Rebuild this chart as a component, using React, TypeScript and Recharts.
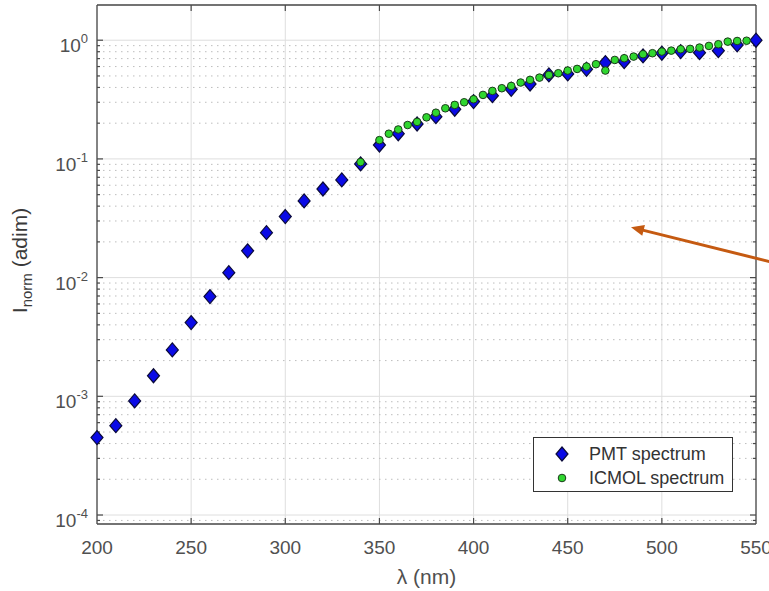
import React from "react";
import {
  ScatterChart,
  Scatter,
  XAxis,
  YAxis,
  CartesianGrid,
  ReferenceLine,
  Legend,
  Label,
} from "recharts";

const FONT = "'Liberation Sans', Arial, Helvetica, sans-serif";
const AXIS_COLOR = "#4a4a4a";
const TEXT_COLOR = "#505050";
const GRID_COLOR = "#dedede";
const MINOR_COLOR = "#bdbdbd";
const PMT_FILL = "#0a0ae6";
const PMT_EDGE = "#0b0b3a";
const ICMOL_FILL = "#2fd62f";
const ICMOL_EDGE = "#1b3b1b";
const ARROW_COLOR = "#c55a11";

const X_TICKS = [200, 250, 300, 350, 400, 450, 500, 550];
const Y_TICKS = [1e-4, 1e-3, 1e-2, 1e-1, 1];
const X_MIN = 200;
const X_MAX = 550;
const Y_MIN = 8.4e-5;
const Y_MAX = 1.98;

const PMT_WAVELENGTH = [
  200, 210, 220, 230, 240, 250, 260, 270, 280, 290, 300, 310, 320, 330, 340,
  350, 360, 370, 380, 390, 400, 410, 420, 430, 440, 450, 460, 470, 480, 490,
  500, 510, 520, 530, 540, 550,
];
const PMT_INTENSITY = [
  4.49e-4, 5.66e-4, 9.15e-4, 1.49e-3, 2.46e-3, 4.18e-3, 6.92e-3, 1.1e-2,
  1.68e-2, 2.39e-2, 3.27e-2, 4.43e-2, 5.58e-2, 6.65e-2, 9.08e-2, 0.131, 0.163,
  0.197, 0.227, 0.262, 0.304, 0.341, 0.386, 0.428, 0.51, 0.52, 0.569, 0.648,
  0.66, 0.738, 0.777, 0.802, 0.786, 0.817, 0.913, 1.0,
];

const ICMOL_WAVELENGTH = [
  340, 350, 355, 360, 365, 370, 375, 380, 385, 390, 395, 400, 405, 410, 415,
  420, 425, 430, 435, 440, 445, 450, 455, 460, 465, 470, 475, 480, 485, 490,
  495, 500, 505, 510, 515, 520, 525, 530, 535, 540, 545,
];
const ICMOL_INTENSITY = [
  0.094, 0.144, 0.163, 0.177, 0.193, 0.205, 0.224, 0.245, 0.267, 0.285, 0.3,
  0.318, 0.346, 0.374, 0.394, 0.412, 0.44, 0.463, 0.484, 0.51, 0.527, 0.555,
  0.573, 0.6, 0.628, 0.555, 0.682, 0.705, 0.728, 0.762, 0.777, 0.802, 0.817,
  0.84, 0.845, 0.867, 0.895, 0.925, 0.973, 0.985, 0.99,
];

// orange annotation arrow, coming in from beyond the right edge
const ARROW_FROM = { wl: 557.5, i: 0.0136 };
const ARROW_TO = { wl: 483.6, i: 0.0266 };

// minor log grid levels (2..9 x 10^k)
const MINOR_Y = [-5, -4, -3, -2, -1, 0]
  .flatMap((k) => [2, 3, 4, 5, 6, 7, 8, 9].map((m) => m * Math.pow(10, k)))
  .filter((v) => v > Y_MIN && v < Y_MAX);

const pmtData = PMT_WAVELENGTH.map((wl, idx) => ({ wl, i: PMT_INTENSITY[idx] }));
const icmolData = ICMOL_WAVELENGTH.map((wl, idx) => ({
  wl,
  i: ICMOL_INTENSITY[idx],
}));

const Diamond = ({ cx, cy }: any) => (
  <polygon
    points={`${cx},${cy - 7} ${cx + 6},${cy} ${cx},${cy + 7} ${cx - 6},${cy}`}
    fill={PMT_FILL}
    stroke={PMT_EDGE}
    strokeWidth={1.2}
  />
);

const Dot = ({ cx, cy }: any) => (
  <circle cx={cx} cy={cy} r={3.8} fill={ICMOL_FILL} stroke={ICMOL_EDGE} strokeWidth={1} />
);

// horizontal line: optional dotted grid + inward ticks on both sides
const hMarks = (len: number, dotted: boolean) => (p: any) => {
  const l = Math.min(p.x1, p.x2);
  const r = Math.max(p.x1, p.x2);
  const y = p.y1;
  return (
    <g>
      {dotted && (
        <line x1={l} x2={r} y1={y} y2={y} stroke={MINOR_COLOR} strokeDasharray="1.5 4.5" />
      )}
      <line x1={l} x2={l + len} y1={y} y2={y} stroke={AXIS_COLOR} strokeWidth={1.2} />
      <line x1={r - len} x2={r} y1={y} y2={y} stroke={AXIS_COLOR} strokeWidth={1.2} />
    </g>
  );
};

// vertical ticks at top and bottom
const vMarks = (len: number) => (p: any) => {
  const t = Math.min(p.y1, p.y2);
  const b = Math.max(p.y1, p.y2);
  const x = p.x1;
  return (
    <g>
      <line x1={x} x2={x} y1={t} y2={t + len} stroke={AXIS_COLOR} strokeWidth={1.2} />
      <line x1={x} x2={x} y1={b - len} y2={b} stroke={AXIS_COLOR} strokeWidth={1.2} />
    </g>
  );
};

const ArrowShape = (p: any) => {
  const { x1, y1, x2, y2 } = p;
  const dx = x2 - x1;
  const dy = y2 - y1;
  const len = Math.hypot(dx, dy) || 1;
  const ux = dx / len;
  const uy = dy / len;
  const hl = 13;
  const hw = 5.5;
  const bx = x2 - ux * hl;
  const by = y2 - uy * hl;
  const pts = `${x2},${y2} ${bx - uy * hw},${by + ux * hw} ${bx + uy * hw},${by - ux * hw}`;
  return (
    <g>
      <line x1={x1} y1={y1} x2={bx + ux * 2} y2={by + uy * 2} stroke={ARROW_COLOR} strokeWidth={3} />
      <polygon points={pts} fill={ARROW_COLOR} />
    </g>
  );
};

const YTick = ({ x, y, payload }: any) => {
  const exp = Math.round(Math.log10(payload.value));
  return (
    <text x={x - 9} y={y + 12} textAnchor="end" fill={TEXT_COLOR} fontFamily={FONT} fontSize={19}>
      10
      <tspan dy={-9} fontSize={13}>
        {exp}
      </tspan>
    </text>
  );
};

const XTick = ({ x, y, payload }: any) => (
  <text x={x} y={y + 30} textAnchor="middle" fill={TEXT_COLOR} fontFamily={FONT} fontSize={19}>
    {payload.value}
  </text>
);

const XLabel = ({ viewBox }: any) => (
  <text
    x={viewBox.x + viewBox.width / 2}
    y={viewBox.y + 60}
    textAnchor="middle"
    fill={TEXT_COLOR}
    fontFamily={FONT}
    fontSize={21}
  >
    λ (nm)
  </text>
);

const YLabel = ({ viewBox }: any) => {
  const cx = viewBox.x + 27;
  const cy = viewBox.y + viewBox.height / 2 - 4;
  return (
    <text
      x={cx}
      y={cy}
      transform={`rotate(-90, ${cx}, ${cy})`}
      textAnchor="middle"
      fill="#3a3a3a"
      fontFamily={FONT}
      fontSize={21}
    >
      I
      <tspan dy={5} fontSize={15}>
        norm
      </tspan>
      <tspan dy={-5}> (adim)</tspan>
    </text>
  );
};

const LegendBox = () => (
  <div
    style={{
      width: 200,
      height: 55,
      boxSizing: "border-box",
      border: "1px solid #333",
      background: "#fff",
      position: "relative",
      fontFamily: FONT,
      fontSize: 18,
      color: "#333",
    }}
  >
    {[
      { name: "PMT spectrum", kind: "diamond" },
      { name: "ICMOL spectrum", kind: "dot" },
    ].map((item, idx) => (
      <div
        key={item.name}
        style={{
          position: "absolute",
          left: 0,
          top: 5 + idx * 24,
          height: 22,
          lineHeight: "22px",
          whiteSpace: "nowrap",
        }}
      >
        <svg width={40} height={22} style={{ position: "absolute", left: 8, top: 0 }}>
          {item.kind === "diamond" ? <Diamond cx={20} cy={11} /> : <Dot cx={20} cy={11} />}
        </svg>
        <span style={{ position: "absolute", left: 55 }}>{item.name}</span>
      </div>
    ))}
  </div>
);

export default function App() {
  return (
    <div style={{ position: "absolute", left: 0, top: 0, width: 769, height: 591, background: "#fff" }}>
      <ScatterChart width={769} height={591} margin={{ top: 5, right: 13, bottom: 0, left: 0 }}>
        <CartesianGrid stroke={GRID_COLOR} />
        <XAxis
          dataKey="wl"
          type="number"
          domain={[X_MIN, X_MAX]}
          ticks={X_TICKS}
          height={67}
          tickLine={false}
          tickSize={0}
          tickMargin={0}
          tick={<XTick />}
          axisLine={{ stroke: AXIS_COLOR, strokeWidth: 1.3 }}
        >
          <Label content={XLabel} />
        </XAxis>
        <YAxis
          dataKey="i"
          type="number"
          scale="log"
          domain={[Y_MIN, Y_MAX]}
          ticks={Y_TICKS}
          width={97}
          tickLine={false}
          tickSize={0}
          tickMargin={0}
          tick={<YTick />}
          axisLine={{ stroke: AXIS_COLOR, strokeWidth: 1.3 }}
        >
          <Label content={YLabel} />
        </YAxis>
        {MINOR_Y.map((v) => (
          <ReferenceLine key={`m${v}`} y={v} shape={hMarks(3, true)} />
        ))}
        {Y_TICKS.map((v) => (
          <ReferenceLine key={`M${v}`} y={v} shape={hMarks(6, false)} />
        ))}
        {X_TICKS.slice(1, -1).map((v) => (
          <ReferenceLine key={`x${v}`} x={v} shape={vMarks(6)} />
        ))}
        <ReferenceLine y={Y_MAX} stroke={AXIS_COLOR} strokeWidth={1.3} />
        <ReferenceLine x={X_MAX} stroke={AXIS_COLOR} strokeWidth={1.3} />
        <Scatter
          name="PMT spectrum"
          data={pmtData}
          shape={<Diamond />}
          isAnimationActive={false}
        />
        <Scatter
          name="ICMOL spectrum"
          data={icmolData}
          shape={<Dot />}
          isAnimationActive={false}
        />
        <ReferenceLine
          segment={[
            { x: ARROW_FROM.wl, y: ARROW_FROM.i },
            { x: ARROW_TO.wl, y: ARROW_TO.i },
          ]}
          ifOverflow="visible"
          shape={ArrowShape}
        />
        <Legend
          layout="vertical"
          align="center"
          verticalAlign="middle"
          wrapperStyle={{ left: 533, top: 437, width: 200, height: 55 }}
          content={<LegendBox />}
        />
      </ScatterChart>
    </div>
  );
}
